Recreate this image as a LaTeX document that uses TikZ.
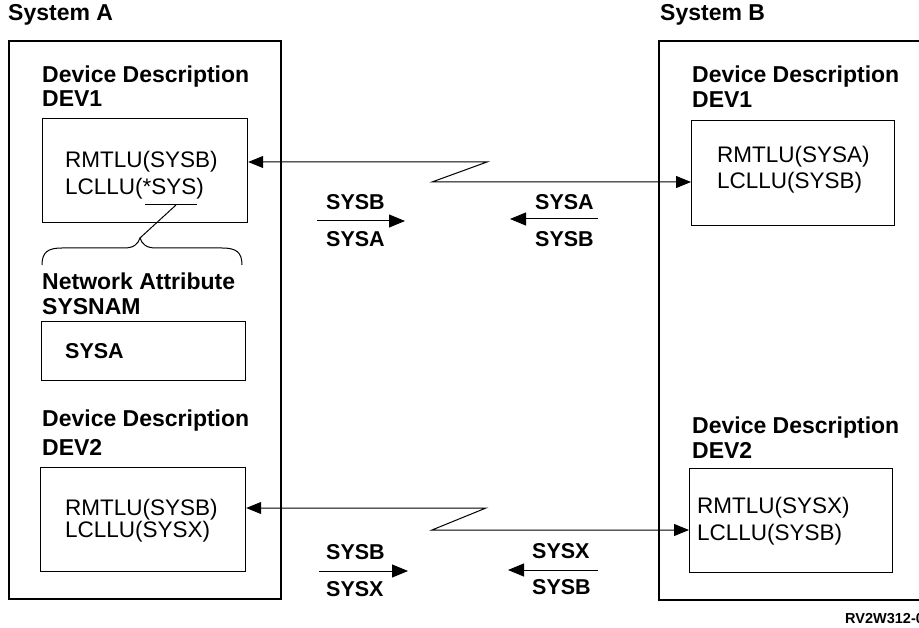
\documentclass[tikz,border=0pt]{standalone}
\usepackage{fontspec}
\setmainfont{Liberation Sans}
\usetikzlibrary{arrows.meta}
\newcommand\hdfont{\fontsize{23}{27}\selectfont\bfseries}
\newcommand\bdfont{\fontsize{22.5}{27}\selectfont}
\newcommand\lbfont{\fontsize{21.5}{26}\selectfont\bfseries}
\newcommand\smfont{\fontsize{14.5}{17}\selectfont\bfseries}
\tikzset{
  outerbox/.style={draw, line width=1.6pt, anchor=north west, inner sep=0pt},
  inbox/.style={draw, line width=1.2pt, anchor=north west, inner sep=0pt},
  head/.style={anchor=base west, inner sep=0pt, font=\hdfont},
  body/.style={anchor=base west, inner sep=0pt, font=\bdfont},
  lbl/.style={anchor=base west, inner sep=0pt, font=\lbfont},
  conn/.style={line width=1pt, {Triangle[length=15pt,width=12pt]}-{Triangle[length=15pt,width=12pt]}},
  sarrow/.style={line width=1pt, -{Triangle[length=16pt,width=13pt]}},
  thin/.style={line width=1pt},
}
\begin{document}
\begin{tikzpicture}[x=1pt,y=-1pt]
\useasboundingbox (0,0) rectangle (919,628);
\fill[white] (0,0) rectangle (919,628);

% System A
\node[head] (sysAlbl) at (8,21) {System A};
\node[outerbox, minimum width=272pt, minimum height=558pt] (sysA) at (8,40) {};
\node[head] (dd1a) at (42,83) {Device Description};
\node[head] (dev1a) at (42,107) {DEV1};
\node[inbox, minimum width=205pt, minimum height=104pt] (d1a) at (42,118) {};
\node[body] (rmt1a) at (65,168) {RMTLU(SYSB)};
\node[body] (lcl1a) at (65,195) {LCLLU(*SYS)};
\coordinate (ul1) at (145,205);
\coordinate (ul2) at (197,205);
\draw[thin] (ul1) -- (ul2);
\coordinate (ulm) at (176,205);
\coordinate (btip) at (140,238);
\draw[thin] (ulm) -- (btip);
% brace
\draw[thin] (42,265) .. controls (42,252) and (48,248) .. (62,248)
  -- (124,248) .. controls (134,248) and (138,244) .. (btip)
  .. controls (142,244) and (146,248) .. (156,248)
  -- (222,248) .. controls (236,248) and (242,252) .. (242,265);
\node[head] (naA) at (42,290) {Network Attribute};
\node[head] (snA) at (42,315) {SYSNAM};
\node[inbox, minimum width=204pt, minimum height=59pt] (sn) at (41,321) {};
\node[lbl] (snv) at (65,359) {SYSA};
\node[head] (dd2a) at (42,427) {Device Description};
\node[head] (dev2a) at (42,455) {DEV2};
\node[inbox, minimum width=205pt, minimum height=104pt] (d2a) at (40,467) {};
\node[body] (rmt2a) at (65,515) {RMTLU(SYSB)};
\node[body] (lcl2a) at (65,537) {LCLLU(SYSX)};

% System B
\node[head] (sysBlbl) at (660,21) {System B};
\node[outerbox, minimum width=300pt, minimum height=559pt] (sysB) at (658,40) {};
\node[head] (dd1b) at (692,83) {Device Description};
\node[head] (dev1b) at (692,108) {DEV1};
\node[inbox, minimum width=203pt, minimum height=105pt] (d1b) at (691,120) {};
\node[body] (rmt1b) at (717,163) {RMTLU(SYSA)};
\node[body] (lcl1b) at (717,189) {LCLLU(SYSB)};
\node[head] (dd2b) at (692,433) {Device Description};
\node[head] (dev2b) at (692,458) {DEV2};
\node[inbox, minimum width=203pt, minimum height=104pt] (d2b) at (689,468) {};
\node[body] (rmt2b) at (697,513) {RMTLU(SYSX)};
\node[body] (lcl2b) at (697,540) {LCLLU(SYSB)};

% connectors
\coordinate (t1) at (487,162);
\coordinate (t2) at (432,182);
\draw[conn] (d1a.east |- t1) -- (t1) -- (t2) -- (d1b.west |- t2);
\coordinate (b1) at (486,508);
\coordinate (b2) at (432,530);
\draw[conn] (d2a.east |- b1) -- (b1) -- (b2) -- (d2b.west |- b2);

% small labelled arrows
\node[lbl] (l1) at (326,210) {SYSB};
\node[lbl] (l2) at (326,247) {SYSA};
\coordinate (a1s) at (317,221); \coordinate (a1e) at (405,221);
\draw[sarrow] (a1s) -- (a1e);
\node[lbl] (l3) at (535,210) {SYSA};
\node[lbl] (l4) at (535,247) {SYSB};
\coordinate (a2s) at (598,219); \coordinate (a2e) at (510,219);
\draw[sarrow] (a2s) -- (a2e);
\node[lbl] (l5) at (326,559) {SYSB};
\node[lbl] (l6) at (326,596) {SYSX};
\coordinate (a3s) at (319,571); \coordinate (a3e) at (408,571);
\draw[sarrow] (a3s) -- (a3e);
\node[lbl] (l7) at (532,558) {SYSX};
\node[lbl] (l8) at (532,594) {SYSB};
\coordinate (a4s) at (598,570); \coordinate (a4e) at (508,570);
\draw[sarrow] (a4s) -- (a4e);

\node[anchor=base west, inner sep=0pt, font=\smfont] (ref) at (845,623) {RV2W312-0};
\end{tikzpicture}
\end{document}
